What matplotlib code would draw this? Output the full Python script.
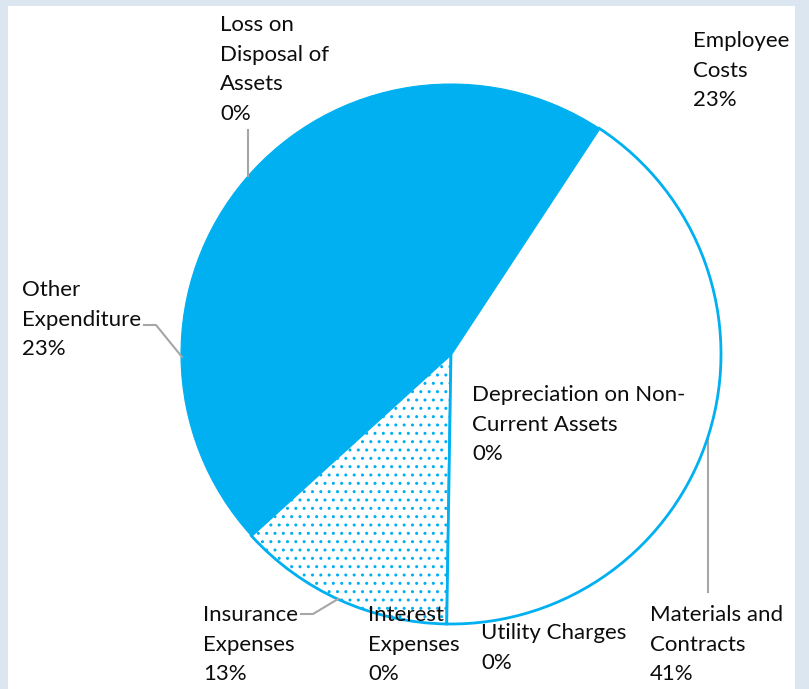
import matplotlib
matplotlib.use('Agg')
import matplotlib.pyplot as plt

plt.rcParams['font.family'] = ['Lato', 'DejaVu Sans']
plt.rcParams['hatch.linewidth'] = 1.0

# slices, clockwise starting from the top-left boundary
labels = ['Employee Costs', 'Depreciation on Non-Current Assets', 'Materials and Contracts',
          'Utility Charges', 'Interest Expenses', 'Insurance Expenses',
          'Other Expenditure', 'Loss on Disposal of Assets']
values = [23, 0, 41, 0, 0, 13, 23, 0]
pct_text = ['23%', '0%', '41%', '0%', '0%', '13%', '23%', '0%']

blue = '#00B0F0'
grey = '#A6A6A6'

W, H = 809, 689
cx, cy, r = 451, 354, 270

fig = plt.figure(figsize=(W / 100, H / 100), dpi=100)
fig.patch.set_facecolor('#DCE6F1')
# white plot area inside the light border
bg = fig.add_axes([8 / W, 0, (795 - 8) / W, (H - 6) / H])
bg.set_facecolor('white')
bg.set_xticks([])
bg.set_yticks([])
for s in bg.spines.values():
    s.set_visible(False)

ax = fig.add_axes([(cx - r) / W, (H - cy - r) / H, 2 * r / W, 2 * r / H])

wedges, _ = ax.pie(values, startangle=139.5, counterclock=False, radius=1,
                   wedgeprops=dict(linewidth=0))
ax.set_xlim(-1, 1)
ax.set_ylim(-1, 1)
ax.axis('off')

fills = {'Employee Costs': blue, 'Other Expenditure': blue}
for w, lab in zip(wedges, labels):
    if lab in fills:
        w.set_facecolor(blue)
        w.set_edgecolor(blue)
        w.set_linewidth(0.8)
    elif lab == 'Materials and Contracts':
        w.set_facecolor('white')
        w.set_edgecolor(blue)
        w.set_linewidth(2)
        w.set_zorder(3)
    elif lab == 'Insurance Expenses':
        w.set_facecolor('white')
        w.set_edgecolor(blue)
        w.set_linewidth(2)
        w.set_hatch('..')
    else:
        w.set_visible(False)


def P(px, py):
    # pixel position in the reference -> pie data coords
    return (px - cx) / r, (cy - py) / r


# label text, anchored at the top-left of the first line
texts = [
    ('Loss on\nDisposal of\nAssets\n0%', 220, 15),
    ('Employee\nCosts\n23%', 693, 31),
    ('Other\nExpenditure\n23%', 22, 280),
    ('Depreciation on Non-\nCurrent Assets\n0%', 472, 385),
    ('Insurance\nExpenses\n13%', 203, 605),
    ('Interest\nExpenses\n0%', 368, 605),
    ('Utility Charges\n0%', 481, 623),
    ('Materials and\nContracts\n41%', 650, 605),
]
for t, px, py in texts:
    x, y = P(px, py)
    ax.text(x, y, t, ha='left', va='top', fontsize=16, linespacing=1.6,
            color='#0d0d0d', clip_on=False, zorder=5)

# leader lines
leaders = [
    [(248, 130), (248, 176)],
    [(144, 325), (156, 325), (182, 357)],
    [(301, 614), (313, 614), (338, 599)],
    [(708, 436), (708, 592)],
]
for pts in leaders:
    xs, ys = zip(*[P(a, b) for a, b in pts])
    ax.plot(xs, ys, color=grey, lw=1.5, clip_on=False)

fig.savefig('out.png', dpi=100, facecolor=fig.get_facecolor())
